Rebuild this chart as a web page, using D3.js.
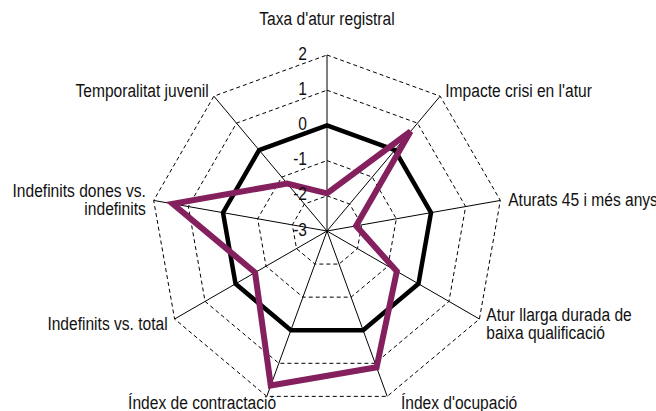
<!DOCTYPE html>
<html>
<head>
<meta charset="utf-8">
<script src="https://cdn.jsdelivr.net/npm/d3@7"></script>
<style>
  body { margin: 0; background: #fff; }
  text { font-family: "Liberation Sans", Arial, sans-serif; font-size: 19px; fill: #111; }
</style>
</head>
<body>
<div id="radar"></div>
<script>
// axis names (clockwise from the top)
var axes = [
  ["Taxa d'atur registral"],
  ["Impacte crisi en l'atur"],
  ["Aturats 45 i més anys"],
  ["Atur llarga durada de", "baixa qualificació"],
  ["Índex d'ocupació"],
  ["Índex de contractació"],
  ["Indefinits vs. total"],
  ["Indefinits dones vs.", "indefinits"],
  ["Temporalitat juvenil"]
];

// reference line (all zero) and the district values
var reference = [0, 0, 0, 0, 0, 0, 0, 0, 0];
var values = [-1.93, 0.69, -2.16, -0.71, 1.12, 1.67, -0.64, 1.45, -1.24];

// scale ticks
var ticks = [-3, -2, -1, 0, 1, 2];

var width = 656, height = 411;
var cx = 327, cy = 231, R = 176;
// narrow the font horizontally (no condensed face installed)
var narrow = 0.82;
var lineH = 18;

var r = d3.scaleLinear().domain([-3, 2]).range([0, R]);
var angle = d3.scaleLinear().domain([0, axes.length]).range([0, 2 * Math.PI]);

var svg = d3.select("#radar").append("svg")
  .attr("width", width)
  .attr("height", height);

var g = svg.append("g")
  .attr("transform", "translate(" + cx + "," + cy + ")");

function pt(i, rad) {
  var a = angle(i);
  return [rad * Math.sin(a), -rad * Math.cos(a)];
}

// dashed rings
var ring = d3.lineRadial()
  .angle(function(d, i) { return angle(i); })
  .radius(function(d) { return r(d); })
  .curve(d3.curveLinearClosed);

g.selectAll(".ring")
  .data(ticks.filter(function(t) { return t > -3; }))
  .enter().append("path")
  .attr("class", "ring")
  .attr("d", function(t) { return ring(axes.map(function() { return t; })); })
  .attr("fill", "none")
  .attr("stroke", "#000")
  .attr("stroke-width", 1)
  .attr("stroke-dasharray", "4,3");

// spokes
g.selectAll(".spoke")
  .data(axes)
  .enter().append("line")
  .attr("class", "spoke")
  .attr("x1", 0).attr("y1", 0)
  .attr("x2", function(d, i) { return pt(i, r(2))[0]; })
  .attr("y2", function(d, i) { return pt(i, r(2))[1]; })
  .attr("stroke", "#000")
  .attr("stroke-width", 1);

// series
g.append("path")
  .attr("d", ring(reference))
  .attr("fill", "none")
  .attr("stroke", "#000")
  .attr("stroke-width", 4.5)
  .attr("stroke-linejoin", "miter");

g.append("path")
  .attr("d", ring(values))
  .attr("fill", "none")
  .attr("stroke", "#85205e")
  .attr("stroke-width", 6)
  .attr("stroke-linejoin", "miter");

// tick labels along the top axis
g.selectAll(".tick")
  .data(ticks)
  .enter().append("text")
  .attr("class", "tick")
  .attr("transform", function(t) {
    return "translate(-20," + (-r(t) - 2) + ") scale(" + narrow + ",1)";
  })
  .attr("dy", "0.35em")
  .style("text-anchor", "end")
  .text(function(t) { return t; });

// axis labels
var lab = g.selectAll(".axlabel")
  .data(axes)
  .enter().append("text")
  .attr("class", "axlabel")
  .attr("transform", function(d, i) {
    var p = pt(i, r(2) + 8);
    var s = Math.sin(angle(i)), c = Math.cos(angle(i));
    if (c > 0.9) p[1] = -r(2) - 37;
    if (c < -0.9) { p[0] += s > 0 ? 11 : 12; p[1] -= 2; }
    p[1] -= (d.length - 1) * lineH / 2;
    return "translate(" + p[0] + "," + p[1] + ") scale(" + narrow + ",1)";
  })
  .style("text-anchor", function(d, i) {
    var s = Math.sin(angle(i));
    return s > 0.1 ? "start" : (s < -0.1 ? "end" : "middle");
  });

lab.selectAll("tspan")
  .data(function(d) { return d; })
  .enter().append("tspan")
  .attr("x", 0)
  .attr("y", function(d, j) { return j * lineH; })
  .attr("dy", "0.35em")
  .text(function(d) { return d; });
</script>
</body>
</html>
